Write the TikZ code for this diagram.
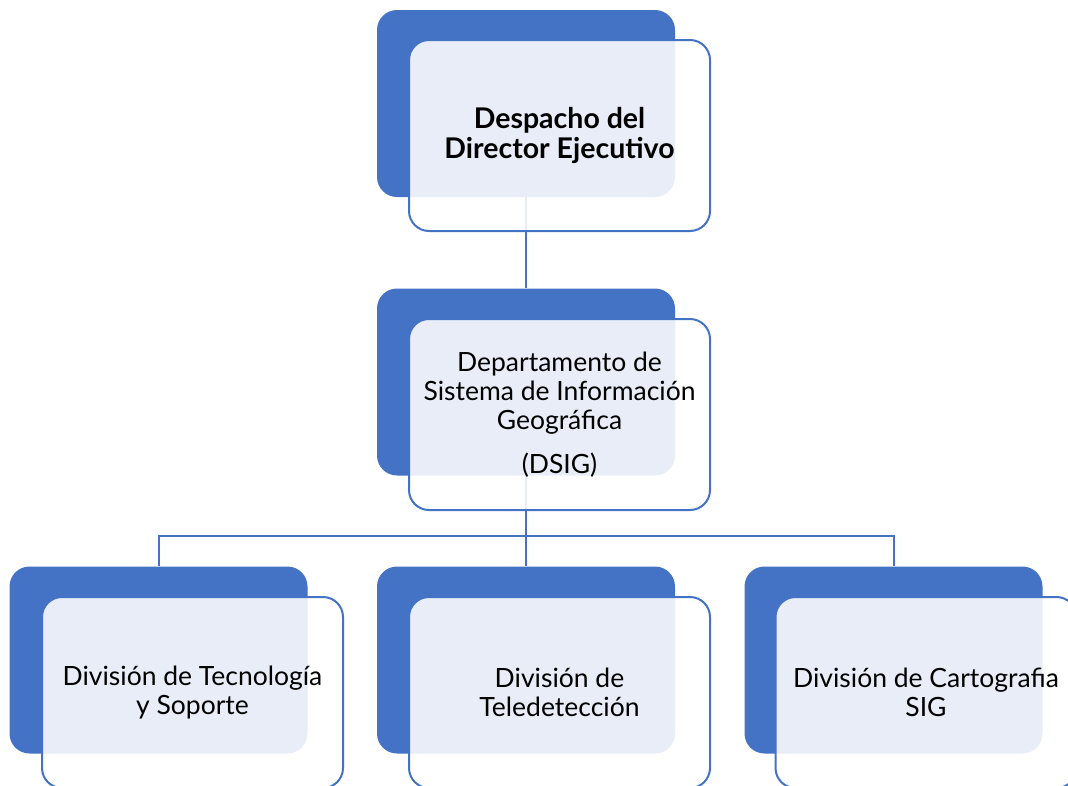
\documentclass[tikz,border=0pt]{standalone}
\usepackage{fontspec}
\setmainfont{Lato}
\definecolor{accent}{HTML}{4472C4}
\begin{document}
\begin{tikzpicture}[x=1pt,y=-1pt,
  backbox/.style={draw=none,fill=accent,rounded corners=20pt,minimum width=298pt,minimum height=187pt,inner sep=0pt},
  frontbox/.style={draw=accent,line width=2pt,fill=white,fill opacity=0.88,text opacity=1,rounded corners=20pt,minimum width=301pt,minimum height=191pt,inner sep=0pt,align=center,font=\fontsize{26.5}{29}\selectfont},
  link/.style={draw=accent,line width=2pt}]
\useasboundingbox (0,0) rectangle (1068,785);
\clip (0,0) rectangle (1068,785);
% back boxes
\node[backbox] (b1) at (526,103.5) {};
\node[backbox] (b2) at (526,382) {};
\node[backbox] (b3l) at (158.5,660) {};
\node[backbox] (b3m) at (526,660) {};
\node[backbox] (b3r) at (893.5,660) {};
% connectors
\draw[link] (b1.south) -- (b2.north);
\draw[link] (b2.south) -- (b3m.north);
\draw[link] (b3l.north) -- ++(0,-30) -| (b3r.north);
% front boxes
\node[frontbox,font=\fontsize{28.5}{30}\selectfont\bfseries] (f1) at (559.5,135.5) {Despacho del\\Director Ejecutivo};
\node[frontbox] (f2) at (559.5,414.5) {Departamento de\\Sistema de Información\\Geográfica\\[15pt](DSIG)};
\node[frontbox] (f3l) at (192.5,692.5) {División de Tecnología\\y Soporte};
\node[frontbox] (f3m) at (559.5,692.5) {División de\\Teledetección};
\node[frontbox] (f3r) at (926,692.5) {División de Cartografia\\SIG};
\end{tikzpicture}
\end{document}
